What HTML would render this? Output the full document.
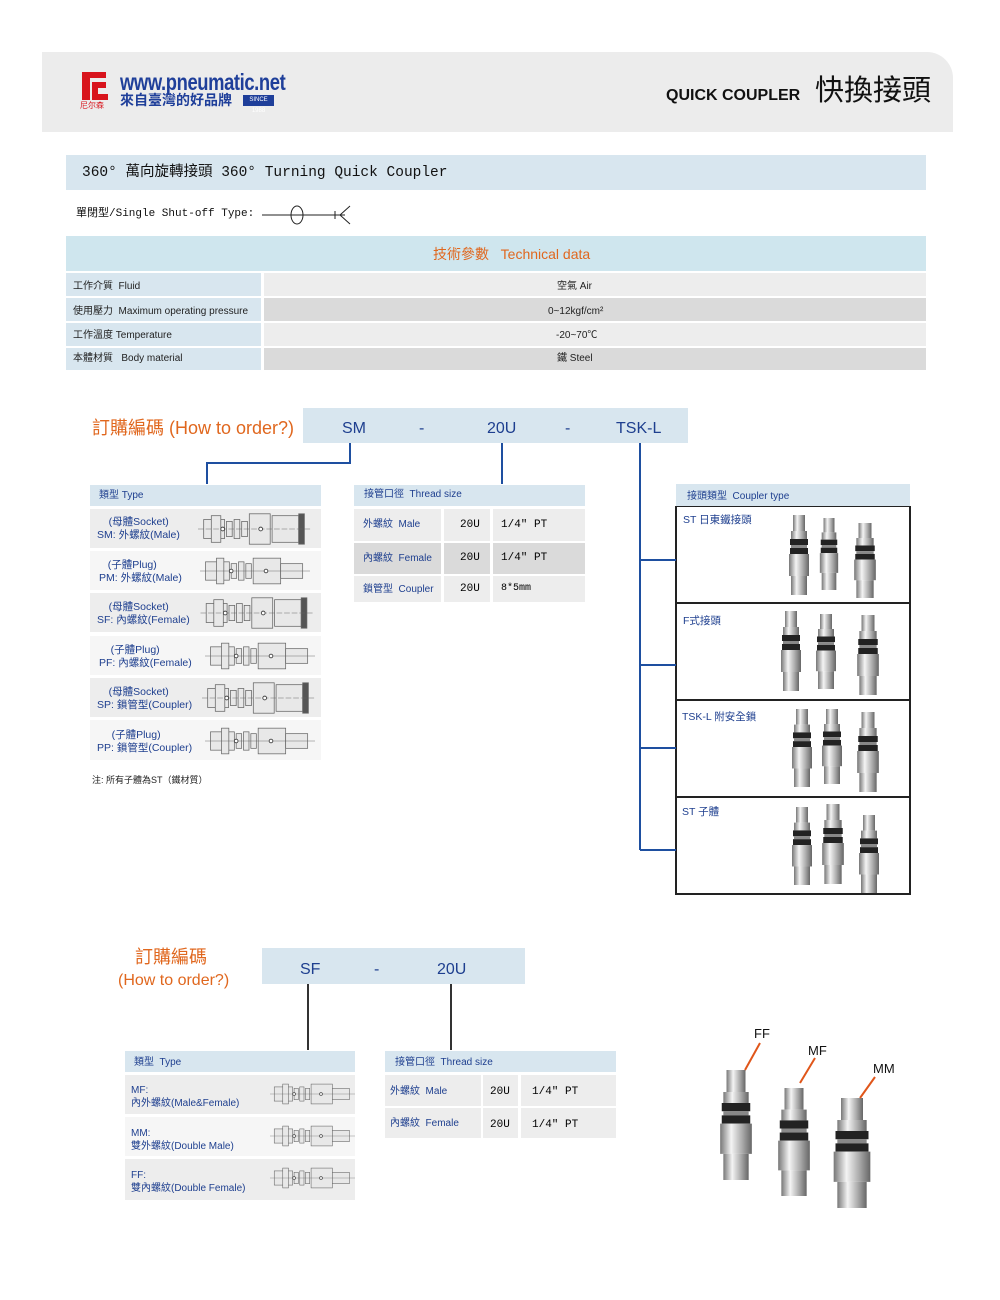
<!DOCTYPE html>
<html><head><meta charset="utf-8"><style>
*{margin:0;padding:0;box-sizing:border-box}
body{width:1000px;height:1300px;background:#fff;position:relative;overflow:hidden;font-family:"Liberation Sans","Noto Sans CJK TC",sans-serif;}
.a{position:absolute}
.t{position:absolute;white-space:nowrap;line-height:1}
.blue{color:#1e3f8f}
.hd{background:#d8e6ef}
.r1{background:#ededed}.r2{background:#f6f6f6}.r3{background:#dadada}
.mono{font-family:"Liberation Mono","Noto Sans CJK TC",monospace}
.box{position:absolute;border:2px solid #222;border-top-width:1px;background:#fff}
</style></head><body>

<!-- header -->
<div class="a" style="left:42px;top:52px;width:911px;height:80px;background:#ececec;border-top-right-radius:26px"></div>
<svg class="a" style="left:78px;top:68px" width="34" height="42"><path d="M4 4h24v6H12v22H4z" fill="#d8141c"/><path d="M14 14h14v6h-8v6h10v6H14z" fill="#d8141c"/><text x="2" y="40" font-size="8" fill="#d8141c" font-family="Noto Sans CJK TC">尼尔森</text></svg>
<div class="t" style="left:120px;top:71px;font-size:23px;font-weight:bold;color:#1f3f9a;transform:scaleX(0.8);transform-origin:left;letter-spacing:-0.5px">www.pneumatic.net</div>
<div class="t" style="left:120px;top:93px;font-size:14px;font-weight:bold;color:#1f3f9a;font-family:'Noto Sans CJK TC',sans-serif">來自臺灣的好品牌</div>
<div class="a" style="left:243px;top:95px;width:31px;height:11px;background:#1f3f9a;color:#fff;font-size:6px;line-height:11px;text-align:center">SINCE 1988</div>
<div class="t" style="left:666px;top:88px;font-size:16px;font-weight:bold;color:#111">QUICK COUPLER</div>
<div class="t" style="left:815px;top:74px;font-size:29px;color:#111;font-family:'Noto Sans CJK TC',sans-serif">快換接頭</div>

<!-- title -->
<div class="a hd" style="left:66px;top:155px;width:860px;height:35px"></div>
<div class="t mono" style="left:82px;top:166px;font-size:14.5px;color:#111">360° 萬向旋轉接頭  360° Turning Quick Coupler</div>
<div class="t mono" style="left:76px;top:209px;font-size:11px;color:#111">單閉型/Single Shut-off Type:</div>
<svg class="a" style="left:260px;top:204px" width="95" height="24"><line x1="2" y1="11" x2="85" y2="11" stroke="#222"/><ellipse cx="37" cy="11" rx="6" ry="9" fill="#fff" stroke="#222"/><line x1="30" y1="11" x2="44" y2="11" stroke="#222"/><line x1="75" y1="7" x2="75" y2="15" stroke="#222"/><path d="M90 2L80 11L90 20" fill="none" stroke="#222"/></svg>

<!-- tech data -->
<div class="a" style="left:66px;top:236px;width:860px;height:35px;background:#cfe6ee"></div>
<div class="t" style="left:433px;top:247px;font-size:14px;color:#e0671e">技術參數&nbsp;&nbsp; Technical data</div>
<div class="a hd" style="left:66px;top:273px;width:195px;height:23px"></div>
<div class="a hd" style="left:66px;top:298px;width:195px;height:23px"></div>
<div class="a hd" style="left:66px;top:323px;width:195px;height:23px"></div>
<div class="a hd" style="left:66px;top:348px;width:195px;height:22px"></div>
<div class="a r1" style="left:264px;top:273px;width:662px;height:23px"></div>
<div class="a r3" style="left:264px;top:298px;width:662px;height:23px"></div>
<div class="a r1" style="left:264px;top:323px;width:662px;height:23px"></div>
<div class="a r3" style="left:264px;top:348px;width:662px;height:22px"></div>
<div class="t" style="left:73px;top:282px;font-size:10px;color:#222">工作介質&nbsp; Fluid</div>
<div class="t" style="left:73px;top:307px;font-size:10px;color:#222">使用壓力&nbsp; Maximum operating pressure</div>
<div class="t" style="left:73px;top:331px;font-size:10px;color:#222">工作溫度 Temperature</div>
<div class="t" style="left:73px;top:354px;font-size:10px;color:#222">本體材質&nbsp;&nbsp; Body material</div>
<div class="t" style="left:557px;top:282px;font-size:10px;color:#222">空氣 Air</div>
<div class="t" style="left:548px;top:307px;font-size:10px;color:#222">0~12kgf/cm²</div>
<div class="t" style="left:556px;top:331px;font-size:10px;color:#222">-20~70℃</div>
<div class="t" style="left:557px;top:354px;font-size:10px;color:#222">鐵 Steel</div>

<!-- order 1 -->
<div class="t" style="left:92px;top:419px;font-size:18px;color:#e0671e">訂購編碼 (How to order?)</div>
<div class="a hd" style="left:303px;top:408px;width:385px;height:35px"></div>
<div class="t blue" style="left:342px;top:421px;font-size:16px">SM</div>
<div class="t blue" style="left:419px;top:421px;font-size:16px">-</div>
<div class="t blue" style="left:487px;top:421px;font-size:16px">20U</div>
<div class="t blue" style="left:565px;top:421px;font-size:16px">-</div>
<div class="t blue" style="left:616px;top:421px;font-size:16px">TSK-L</div>

<svg class="a" style="left:0;top:0" width="1000" height="1300">
<defs>
<linearGradient id="sv" x1="0" x2="1"><stop offset="0" stop-color="#777"/><stop offset=".35" stop-color="#f4f4f4"/><stop offset=".7" stop-color="#aaa"/><stop offset="1" stop-color="#666"/></linearGradient>
<symbol id="fit" viewBox="0 0 24 80" preserveAspectRatio="none"><rect x="6" y="0" width="12" height="16" fill="url(#sv)"/><rect x="4" y="16" width="16" height="8" fill="url(#sv)"/><rect x="3" y="24" width="18" height="6" fill="#222"/><rect x="4" y="30" width="16" height="3" fill="#888"/><rect x="3" y="33" width="18" height="6" fill="#222"/><rect x="2" y="39" width="20" height="22" fill="url(#sv)"/><rect x="4" y="61" width="16" height="19" fill="url(#sv)"/></symbol>
<symbol id="drw" viewBox="0 0 120 40"><g fill="#e8e8e8" stroke="#666" stroke-width="0.8"><rect x="6" y="10" width="22" height="20"/><rect x="14" y="6" width="10" height="28"/><rect x="30" y="12" width="6" height="16"/><rect x="38" y="10" width="6" height="20"/><rect x="46" y="12" width="6" height="16"/><rect x="54" y="4" width="22" height="32"/><rect x="78" y="6" width="28" height="28"/><rect x="106" y="4" width="6" height="32" fill="#555"/></g><line x1="0" y1="20" x2="120" y2="20" stroke="#666" stroke-width="0.5" stroke-dasharray="6 2"/><circle cx="26" cy="20" r="2" fill="#fff" stroke="#444"/><circle cx="66" cy="20" r="2" fill="#fff" stroke="#444"/></symbol>
<symbol id="drp" viewBox="0 0 120 40"><g fill="#e8e8e8" stroke="#666" stroke-width="0.8"><rect x="6" y="10" width="26" height="20"/><rect x="18" y="6" width="8" height="28"/><rect x="34" y="12" width="6" height="16"/><rect x="42" y="10" width="6" height="20"/><rect x="50" y="12" width="6" height="16"/><rect x="58" y="6" width="30" height="28"/><rect x="88" y="12" width="24" height="16"/></g><line x1="0" y1="20" x2="120" y2="20" stroke="#666" stroke-width="0.5"/><circle cx="34" cy="20" r="2" fill="#fff" stroke="#444"/><circle cx="72" cy="20" r="2" fill="#fff" stroke="#444"/></symbol>
</defs>
<g stroke="#1e4fa0" stroke-width="2" fill="none">
<path d="M350 443V463H207V484"/><path d="M502 443V484"/>
<path d="M640 443V850"/><path d="M640 560H676M640 665H676M640 748H676M640 850H676"/>
</g>
<g stroke="#333" stroke-width="2"><path d="M308 984V1050M451 984V1050"/></g>
<use href="#drw" x="195" y="510" width="120" height="38"/>
<use href="#drp" x="200" y="552" width="110" height="38"/>
<use href="#drw" x="195" y="594" width="125" height="38"/>
<use href="#drp" x="205" y="637" width="110" height="38"/>
<use href="#drw" x="198" y="679" width="122" height="38"/>
<use href="#drp" x="205" y="722" width="110" height="38"/>
<use href="#drp" x="270" y="1078" width="85" height="32"/>
<use href="#drp" x="270" y="1120" width="85" height="32"/>
<use href="#drp" x="270" y="1162" width="85" height="32"/>
<use href="#fit" x="787" y="515" width="24" height="80"/><use href="#fit" x="818" y="518" width="22" height="72"/><use href="#fit" x="852" y="523" width="26" height="75"/>
<use href="#fit" x="779" y="611" width="24" height="80"/><use href="#fit" x="814" y="614" width="24" height="75"/><use href="#fit" x="855" y="615" width="26" height="80"/>
<use href="#fit" x="790" y="709" width="24" height="78"/><use href="#fit" x="820" y="709" width="24" height="75"/><use href="#fit" x="855" y="712" width="26" height="80"/>
<use href="#fit" x="790" y="807" width="24" height="78"/><use href="#fit" x="820" y="804" width="26" height="80"/><use href="#fit" x="857" y="815" width="24" height="78"/>
<use href="#fit" x="717" y="1070" width="38" height="110"/><use href="#fit" x="775" y="1088" width="38" height="108"/><use href="#fit" x="830" y="1098" width="44" height="110"/>
<g stroke="#e0561a" stroke-width="2"><path d="M760 1043L745 1070M815 1058L800 1083M875 1077L860 1098"/></g>
<g font-family="Liberation Sans" font-size="13" fill="#111"><text x="754" y="1038">FF</text><text x="808" y="1055">MF</text><text x="873" y="1073">MM</text></g>
</svg>

<!-- type table -->
<div class="a hd" style="left:90px;top:485px;width:231px;height:21px"></div>
<div class="t blue" style="left:99px;top:491px;font-size:10px">類型 Type</div>
<div class="a r1" style="left:90px;top:509px;width:231px;height:39px;z-index:-1"></div>
<div class="a r2" style="left:90px;top:551px;width:231px;height:39px;z-index:-1"></div>
<div class="a r1" style="left:90px;top:593px;width:231px;height:39px;z-index:-1"></div>
<div class="a r2" style="left:90px;top:636px;width:231px;height:39px;z-index:-1"></div>
<div class="a r1" style="left:90px;top:678px;width:231px;height:39px;z-index:-1"></div>
<div class="a r2" style="left:90px;top:720px;width:231px;height:40px;z-index:-1"></div>
<div class="t blue" style="left:97px;top:516px;font-size:10.5px;line-height:13px">&nbsp;&nbsp;&nbsp;&nbsp;(母體Socket)<br>SM: 外螺紋(Male)</div>
<div class="t blue" style="left:99px;top:559px;font-size:10.5px;line-height:13px">&nbsp;&nbsp;&nbsp;(子體Plug)<br>PM: 外螺紋(Male)</div>
<div class="t blue" style="left:97px;top:601px;font-size:10.5px;line-height:13px">&nbsp;&nbsp;&nbsp;&nbsp;(母體Socket)<br>SF: 內螺紋(Female)</div>
<div class="t blue" style="left:99px;top:644px;font-size:10.5px;line-height:13px">&nbsp;&nbsp;&nbsp;&nbsp;(子體Plug)<br>PF: 內螺紋(Female)</div>
<div class="t blue" style="left:97px;top:686px;font-size:10.5px;line-height:13px">&nbsp;&nbsp;&nbsp;&nbsp;(母體Socket)<br>SP: 鎖管型(Coupler)</div>
<div class="t blue" style="left:97px;top:729px;font-size:10.5px;line-height:13px">&nbsp;&nbsp;&nbsp;&nbsp;&nbsp;(子體Plug)<br>PP: 鎖管型(Coupler)</div>
<div class="t" style="left:92px;top:776px;font-size:9px;color:#222">注: 所有子體為ST（鐵材質）</div>

<!-- thread table -->
<div class="a hd" style="left:354px;top:485px;width:231px;height:21px"></div>
<div class="t blue" style="left:364px;top:490px;font-size:10px">接管口徑&nbsp; Thread size</div>
<div class="a r1" style="left:354px;top:509px;width:87px;height:32px"></div><div class="a r1" style="left:444px;top:509px;width:46px;height:32px"></div><div class="a r1" style="left:493px;top:509px;width:92px;height:32px"></div>
<div class="a r3" style="left:354px;top:543px;width:87px;height:31px"></div><div class="a r3" style="left:444px;top:543px;width:46px;height:31px"></div><div class="a r3" style="left:493px;top:543px;width:92px;height:31px"></div>
<div class="a r1" style="left:354px;top:576px;width:87px;height:26px"></div><div class="a r1" style="left:444px;top:576px;width:46px;height:26px"></div><div class="a r1" style="left:493px;top:576px;width:92px;height:26px"></div>
<div class="t blue" style="left:363px;top:520px;font-size:10px">外螺紋&nbsp; Male</div>
<div class="t blue" style="left:363px;top:554px;font-size:10px">內螺紋&nbsp; Female</div>
<div class="t blue" style="left:363px;top:585px;font-size:10px">鎖管型&nbsp; Coupler</div>
<div class="t mono" style="left:460px;top:520px;font-size:11px">20U</div><div class="t mono" style="left:501px;top:520px;font-size:11px">1/4" PT</div>
<div class="t mono" style="left:460px;top:553px;font-size:11px">20U</div><div class="t mono" style="left:501px;top:553px;font-size:11px">1/4" PT</div>
<div class="t mono" style="left:460px;top:584px;font-size:11px">20U</div><div class="t mono" style="left:501px;top:584px;font-size:10px">8*5mm</div>

<!-- coupler type -->
<div class="a hd" style="left:676px;top:484px;width:234px;height:22px"></div>
<div class="t blue" style="left:687px;top:492px;font-size:10px">接頭類型&nbsp; Coupler type</div>
<div class="box" style="left:675px;top:506px;width:236px;height:98px;z-index:-1"></div>
<div class="box" style="left:675px;top:603px;width:236px;height:98px;z-index:-1"></div>
<div class="box" style="left:675px;top:700px;width:236px;height:98px;z-index:-1"></div>
<div class="box" style="left:675px;top:797px;width:236px;height:98px;z-index:-1"></div>
<div class="t blue" style="left:683px;top:515px;font-size:10.5px">ST 日東鐵接頭</div>
<div class="t blue" style="left:683px;top:616px;font-size:10.5px">F式接頭</div>
<div class="t blue" style="left:682px;top:712px;font-size:10.5px">TSK-L 附安全鎖</div>
<div class="t blue" style="left:682px;top:807px;font-size:10.5px">ST 子體</div>

<!-- order 2 -->
<div class="t" style="left:135px;top:948px;font-size:18px;color:#e0671e">訂購編碼</div>
<div class="t" style="left:118px;top:973px;font-size:16px;color:#e0671e">(How to order?)</div>
<div class="a hd" style="left:262px;top:948px;width:263px;height:36px"></div>
<div class="t blue" style="left:300px;top:962px;font-size:16px">SF</div>
<div class="t blue" style="left:374px;top:962px;font-size:16px">-</div>
<div class="t blue" style="left:437px;top:962px;font-size:16px">20U</div>

<div class="a hd" style="left:125px;top:1051px;width:230px;height:21px"></div>
<div class="t blue" style="left:134px;top:1058px;font-size:10px">類型&nbsp; Type</div>
<div class="a r1" style="left:125px;top:1075px;width:230px;height:39px;z-index:-1"></div>
<div class="a r2" style="left:125px;top:1117px;width:230px;height:39px;z-index:-1"></div>
<div class="a r1" style="left:125px;top:1159px;width:230px;height:41px;z-index:-1"></div>
<div class="t blue" style="left:131px;top:1084px;font-size:10px;line-height:13px">MF:<br>內外螺紋(Male&amp;Female)</div>
<div class="t blue" style="left:131px;top:1127px;font-size:10px;line-height:13px">MM:<br>雙外螺紋(Double Male)</div>
<div class="t blue" style="left:131px;top:1169px;font-size:10px;line-height:13px">FF:<br>雙內螺紋(Double Female)</div>

<div class="a hd" style="left:385px;top:1051px;width:231px;height:21px"></div>
<div class="t blue" style="left:395px;top:1058px;font-size:10px">接管口徑&nbsp; Thread size</div>
<div class="a r1" style="left:385px;top:1075px;width:96px;height:31px"></div><div class="a r1" style="left:483px;top:1075px;width:35px;height:31px"></div><div class="a r1" style="left:521px;top:1075px;width:95px;height:31px"></div>
<div class="a r1" style="left:385px;top:1108px;width:96px;height:30px"></div><div class="a r1" style="left:483px;top:1108px;width:35px;height:30px"></div><div class="a r1" style="left:521px;top:1108px;width:95px;height:30px"></div>
<div class="t blue" style="left:390px;top:1087px;font-size:10px">外螺紋&nbsp; Male</div>
<div class="t blue" style="left:390px;top:1119px;font-size:10px">內螺紋&nbsp; Female</div>
<div class="t mono" style="left:490px;top:1087px;font-size:11px">20U</div><div class="t mono" style="left:532px;top:1087px;font-size:11px">1/4" PT</div>
<div class="t mono" style="left:490px;top:1120px;font-size:11px">20U</div><div class="t mono" style="left:532px;top:1120px;font-size:11px">1/4" PT</div>
</body></html>
